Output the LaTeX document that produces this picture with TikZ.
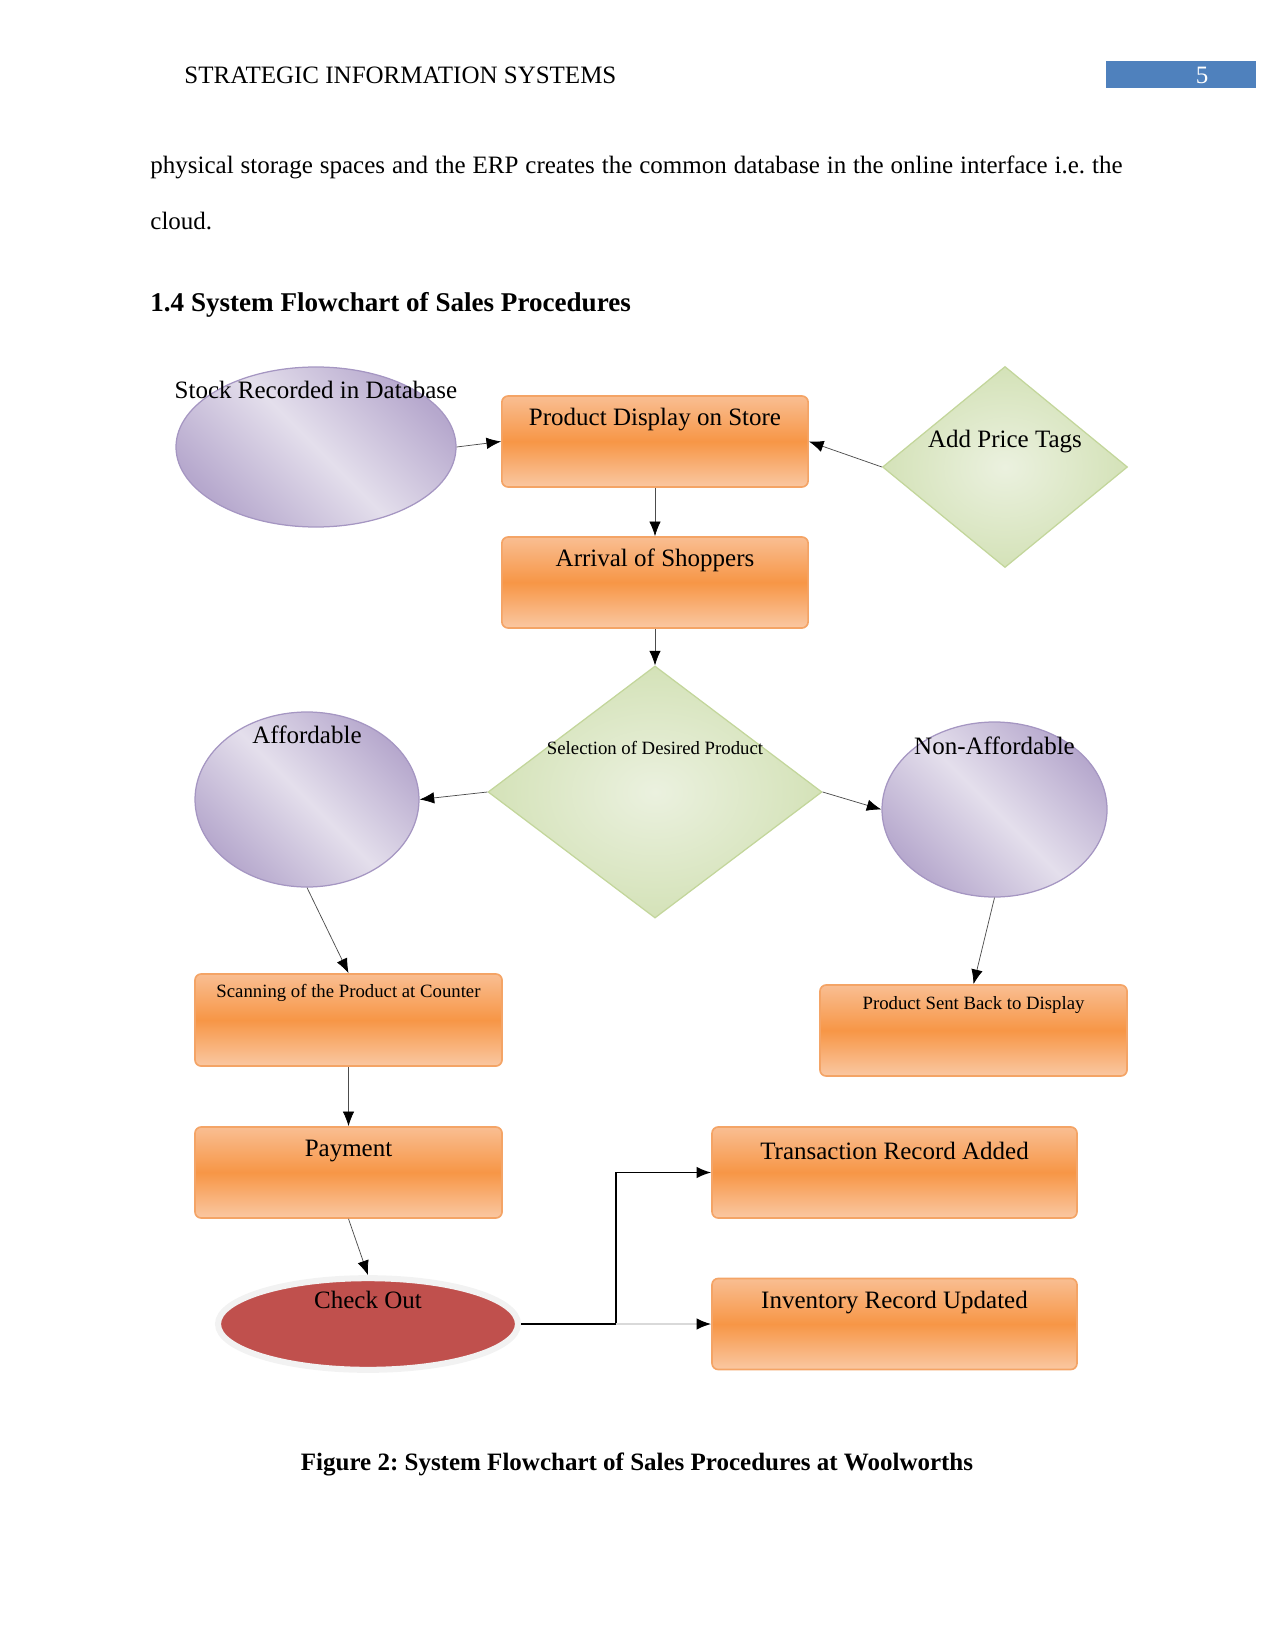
\documentclass[tikz,border=0pt]{standalone}
\usepackage{fontspec}
\setmainfont{Liberation Serif}
\usetikzlibrary{shapes.geometric,arrows.meta}
\frenchspacing

\definecolor{headblue}{HTML}{4F81BD}
\definecolor{orangeL}{HTML}{F9BE92}
\definecolor{orangeM}{HTML}{F79646}
\definecolor{orangeB}{HTML}{F4A466}
\definecolor{purpD}{HTML}{B6A8CD}
\definecolor{purpL}{HTML}{E4DFEC}
\definecolor{purpB}{HTML}{A596C2}
\definecolor{greenD}{HTML}{D4E2B8}
\definecolor{greenL}{HTML}{EBF1DF}
\definecolor{greenB}{HTML}{C3D69B}
\definecolor{checkred}{HTML}{C0504D}

\begin{document}
\begin{tikzpicture}[x=0.48pt,y=-0.48pt]

\tikzset{mynode/.style={inner sep=0pt, font=\fontsize{12}{14.4}\selectfont}}
\tikzset{mybox/.style={rectangle, rounded corners=3pt, draw=orangeB, line width=0.8pt,
    top color=orangeL, bottom color=orangeL!85!white, middle color=orangeM,
    inner sep=0pt, minimum width=147pt, minimum height=43.7pt,
    label={[mynode, yshift=10.5pt]center:#1}}}
\tikzset{myoval/.style={ellipse, draw=purpB, line width=0.6pt,
    left color=purpD, right color=purpD, middle color=purpL, shading angle=-45,
    inner sep=0pt}}
\tikzset{mydiamond/.style={diamond, draw=greenB, line width=0.6pt,
    inner color=greenL, outer color=greenD, inner sep=0pt}}
\tikzset{myarrow/.style={draw=black!70, line width=0.35pt, -{Latex[length=7pt,width=5.5pt,black]}}}

\useasboundingbox (0,0) rectangle (1275,1650);

\node[mynode, anchor=base west] (head) at (184,84) {STRATEGIC INFORMATION SYSTEMS};
\fill[headblue] (1106,61) rectangle (1256,88);
\node[mynode, anchor=base, text=white] (pagenum) at (1202,84) {5};

\node[mynode, anchor=base west] (line1) at (150,174) {\makebox[466.6pt][s]{physical storage spaces and the ERP creates the common database in the online interface i.e. the}};
\node[mynode, anchor=base west] (line2) at (150,230) {cloud.};
\node[mynode, anchor=base west, font=\fontsize{13}{15.6}\selectfont\bfseries] (heading) at (150,312) {1.4 System Flowchart of Sales Procedures};

\node[myoval, minimum width=134.4pt, minimum height=76.8pt,
    label={[mynode, yshift=27.5pt]center:Stock Recorded in Database}] (stock) at (316,447) {};
\node[mybox={Product Display on Store}] (disp) at (655,441.5) {};
\node[mydiamond, minimum width=117.6pt, minimum height=96.5pt,
    label={[mynode, yshift=12pt]center:Add Price Tags}] (price) at (1005,467) {};
\node[mybox={Arrival of Shoppers}] (arrive) at (655,582.5) {};
\node[mydiamond, minimum width=160.3pt, minimum height=121pt,
    label={[mynode, font=\fontsize{9}{11}\selectfont, yshift=21pt]center:Selection of Desired Product}] (select) at (655,792) {};
\node[myoval, minimum width=107.5pt, minimum height=84pt,
    label={[mynode, yshift=31pt]center:Affordable}] (afford) at (307,799.5) {};
\node[myoval, minimum width=108pt, minimum height=84pt,
    label={[mynode, yshift=30.5pt]center:Non-Affordable}] (nonaff) at (994.5,809.5) {};
\node[mybox={}, minimum width=147.4pt, minimum height=44.2pt,
    label={[mynode, font=\fontsize{9}{11}\selectfont, yshift=13pt]center:Scanning of the Product at Counter}] (scan) at (348.5,1020) {};
\node[mybox={}, minimum width=147.4pt,
    label={[mynode, font=\fontsize{9}{11}\selectfont, yshift=12.3pt]center:Product Sent Back to Display}] (sentback) at (973.5,1030.5) {};
\node[mybox={Payment}, minimum width=147.4pt] (pay) at (348.5,1172.5) {};
\node[ellipse, fill=checkred, draw=black!5, line width=2.9pt, inner sep=0pt,
    minimum width=144pt, minimum height=44pt,
    label={[mynode, yshift=11.5pt]center:Check Out}] (checkout) at (368,1324) {};
\node[mybox={Transaction Record Added}, minimum width=175.2pt] (trans) at (894.5,1172.5) {};
\node[mybox={Inventory Record Updated}, minimum width=175.2pt] (inv) at (894.5,1324) {};

\coordinate (elbow) at (616,1324);

\draw[myarrow] (stock.east) -- (disp.west);
\draw[myarrow] (price.west) -- (disp.east);
\draw[myarrow] (disp.south) -- (arrive.north);
\draw[myarrow] (arrive.south) -- (select.north);
\draw[myarrow] (select.west) -- (afford.east);
\draw[myarrow] (select.east) -- (nonaff.west);
\draw[myarrow] (afford.south) -- (scan.north);
\draw[myarrow] (nonaff.south) -- (sentback.north);
\draw[myarrow] (scan.south) -- (pay.north);
\draw[myarrow] (pay.south) -- (checkout.north);
\draw[myarrow, draw=black, line width=0.7pt] (checkout.east) -- (elbow) |- (trans.west);
\draw[myarrow, draw=black!15, line width=0.7pt] (elbow) -- (inv.west);

\node[mynode, anchor=base, font=\fontsize{12}{14.4}\selectfont\bfseries] (caption) at (637,1470) {Figure 2: System Flowchart of Sales Procedures at Woolworths};

\end{tikzpicture}
\end{document}
